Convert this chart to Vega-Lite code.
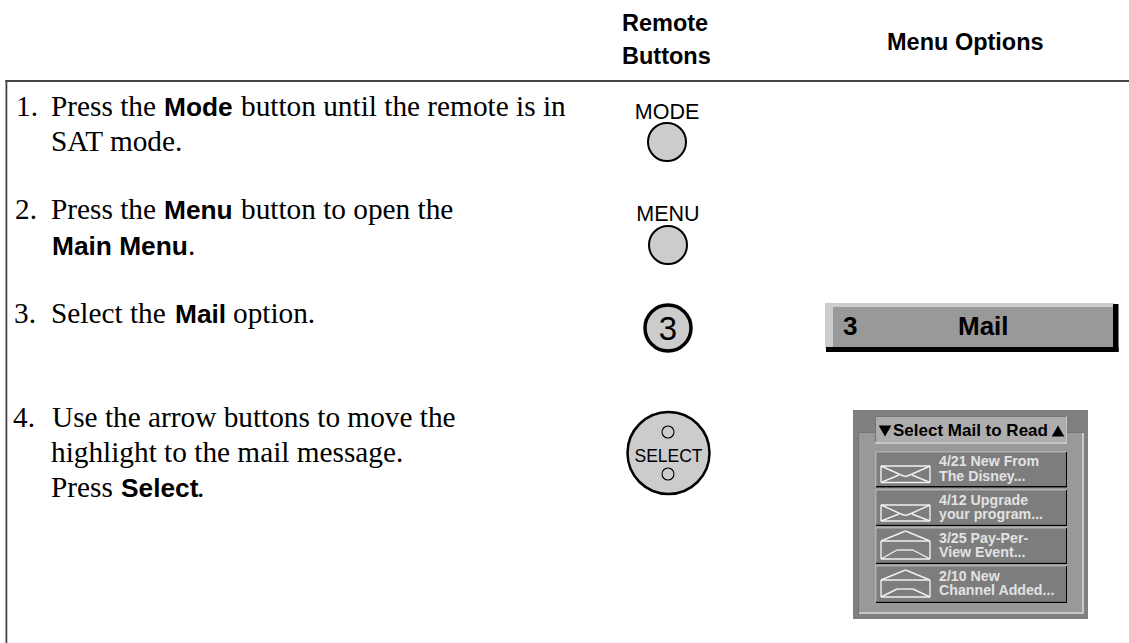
{
"$schema":"https://vega.github.io/schema/vega-lite/v6.json",
"width":1129,"height":643,
"autosize":{"type":"none"},
"padding":0,
"background":"#ffffff",
"view":{"stroke":null},
"datasets":{
"panels":[
{"x":5.5,"x2":1129,"y":80,"y2":82,"part":"rule"},
{"x":5.5,"x2":7.3,"y":80,"y2":643,"part":"rule"},
{"x":825,"x2":1114,"y":303,"y2":348,"part":"barlight"},
{"x":1113,"x2":1118.5,"y":304,"y2":352,"part":"black"},
{"x":826,"x2":1118.5,"y":347,"y2":352,"part":"black"},
{"x":833,"x2":1113,"y":307,"y2":347,"part":"bar"},
{"x":853,"x2":1088,"y":410,"y2":619,"part":"panelouter"},
{"x":858,"x2":1084,"y":432,"y2":614,"part":"edge"},
{"x":859,"x2":1084,"y":433,"y2":614,"part":"panelrim"},
{"x":859,"x2":1082,"y":433,"y2":612,"part":"bar"},
{"x":875,"x2":1067,"y":416,"y2":444,"part":"titlerim"},
{"x":875,"x2":1066,"y":416,"y2":442,"part":"edge"},
{"x":876,"x2":1066,"y":417,"y2":442,"part":"titlefill"},
{"x":875,"x2":1067,"y":451,"y2":487.5,"part":"rowrim"},
{"x":876,"x2":1067,"y":486,"y2":487.5,"part":"black"},
{"x":876.5,"x2":1066,"y":452.5,"y2":486,"part":"row"},
{"x":1066,"x2":1067,"y":452,"y2":487,"part":"black"},
{"x":875,"x2":1067,"y":489,"y2":526,"part":"rowrim"},
{"x":876,"x2":1067,"y":524.5,"y2":526,"part":"black"},
{"x":876.5,"x2":1066,"y":490.5,"y2":524.5,"part":"row"},
{"x":1066,"x2":1067,"y":490,"y2":525,"part":"black"},
{"x":875,"x2":1067,"y":527,"y2":564,"part":"rowrim"},
{"x":876,"x2":1067,"y":562.5,"y2":564,"part":"black"},
{"x":876.5,"x2":1066,"y":528.5,"y2":562.5,"part":"row"},
{"x":1066,"x2":1067,"y":528,"y2":563,"part":"black"},
{"x":875,"x2":1067,"y":565,"y2":603,"part":"rowrim"},
{"x":876,"x2":1067,"y":601.5,"y2":603,"part":"black"},
{"x":876.5,"x2":1066,"y":566.5,"y2":601.5,"part":"row"},
{"x":1066,"x2":1067,"y":566,"y2":602,"part":"black"}
],
"envelopes":[
{"x":881,"y":466,"x2":930,"y2":466},{"x":881,"y":482.5,"x2":930,"y2":482.5},{"x":881,"y":466,"x2":881,"y2":482.5},{"x":930,"y":466,"x2":930,"y2":482.5},
{"x":881,"y":466,"x2":901,"y2":475},{"x":930,"y":466,"x2":910,"y2":475},{"x":901,"y":475,"x2":905.5,"y2":476.5},{"x":905.5,"y":476.5,"x2":910,"y2":475},{"x":881,"y":482.5,"x2":899,"y2":475},{"x":930,"y":482.5,"x2":912,"y2":475},
{"x":881,"y":505,"x2":930,"y2":505},{"x":881,"y":521,"x2":930,"y2":521},{"x":881,"y":505,"x2":881,"y2":521},{"x":930,"y":505,"x2":930,"y2":521},
{"x":881,"y":505,"x2":901,"y2":514},{"x":930,"y":505,"x2":910,"y2":514},{"x":901,"y":514,"x2":905.5,"y2":515.5},{"x":905.5,"y":515.5,"x2":910,"y2":514},{"x":881,"y":521,"x2":899,"y2":514},{"x":930,"y":521,"x2":912,"y2":514},
{"x":881,"y":541,"x2":905.5,"y2":531},{"x":905.5,"y":531,"x2":930,"y2":541},{"x":881,"y":541,"x2":930,"y2":541},{"x":881,"y":541,"x2":881,"y2":559},{"x":930,"y":541,"x2":930,"y2":559},{"x":881,"y":559,"x2":930,"y2":559},{"x":881,"y":559,"x2":897,"y2":550},{"x":897,"y":550,"x2":913,"y2":550},{"x":913,"y":550,"x2":930,"y2":559},
{"x":881,"y":580,"x2":905.5,"y2":570},{"x":905.5,"y":570,"x2":930,"y2":580},{"x":881,"y":580,"x2":930,"y2":580},{"x":881,"y":580,"x2":881,"y2":597},{"x":930,"y":580,"x2":930,"y2":597},{"x":881,"y":597,"x2":930,"y2":597},{"x":881,"y":597,"x2":897,"y2":589},{"x":897,"y":589,"x2":913,"y2":589},{"x":913,"y":589,"x2":930,"y2":597}
],
"arrows":[
{"x":885,"y":431,"dir":"triangle-down"},
{"x":1058,"y":431,"dir":"triangle-up"}
],
"serif":[
{"x":16,"y":116,"t":"1."},
{"x":51,"y":116,"t":"Press the"},
{"x":241,"y":116,"t":"button until the remote is in"},
{"x":51,"y":151,"t":"SAT mode."},
{"x":15,"y":219,"t":"2."},
{"x":51,"y":219,"t":"Press the"},
{"x":241,"y":219,"t":"button to open the"},
{"x":188,"y":255,"t":"."},
{"x":14,"y":323,"t":"3."},
{"x":51,"y":323,"t":"Select the"},
{"x":233,"y":323,"t":"option."},
{"x":13,"y":427,"t":"4."},
{"x":52,"y":427,"t":"Use the arrow buttons to move the"},
{"x":51,"y":462,"t":"highlight to the mail message."},
{"x":51,"y":497,"t":"Press"},
{"x":197,"y":497,"t":"."}
],
"bold":[
{"x":164,"y":116,"t":"Mode"},
{"x":164,"y":219,"t":"Menu"},
{"x":52,"y":255,"t":"Main Menu"},
{"x":175,"y":323,"t":"Mail"},
{"x":121,"y":497,"t":"Select"}
],
"heads":[
{"x":622,"y":31,"t":"Remote"},
{"x":622,"y":64,"t":"Buttons"},
{"x":887,"y":50,"t":"Menu Options"}
],
"panel":[
{"x":939,"y":466,"t":"4/21 New From"},{"x":939,"y":481,"t":"The Disney..."},
{"x":939,"y":505,"t":"4/12 Upgrade"},{"x":939,"y":519,"t":"your program..."},
{"x":939,"y":543,"t":"3/25 Pay-Per-"},{"x":939,"y":557,"t":"View Event..."},
{"x":939,"y":581,"t":"2/10 New"},{"x":939,"y":595,"t":"Channel Added..."}
]
},
"encoding":{
"x":{"field":"x","type":"quantitative","scale":{"domain":[0,1129],"nice":false,"zero":false},"axis":null},
"y":{"field":"y","type":"quantitative","scale":{"domain":[643,0],"nice":false,"zero":false},"axis":null}
},
"layer":[
{"data":{"name":"panels"},"mark":{"type":"rect"},
 "encoding":{"x2":{"field":"x2"},"y2":{"field":"y2"},
 "color":{"field":"part","type":"nominal","legend":null,"scale":{
 "domain":["rule","barlight","black","bar","panelouter","panelrim","titlerim","titlefill","rowrim","row","edge"],
 "range":["#444444","#cccccc","#000000","#999999","#808080","#c8c8c8","#c4c4c4","#adadad","#b0b0b0","#7d7d7d","#747474"]}}}},
{"data":{"name":"envelopes"},"mark":{"type":"rule","color":"#f0f0f0","strokeWidth":1.4},
 "encoding":{"x2":{"field":"x2"},"y2":{"field":"y2"}}},
{"data":{"values":[{"x":667,"y":142},{"x":668,"y":245}]},
 "mark":{"type":"point","shape":"circle","filled":false,"fill":"#cccccc","fillOpacity":1,"stroke":"#000000","strokeWidth":2,"opacity":1,"size":1444},"encoding":{}},
{"data":{"values":[{"x":668.5,"y":453}]},
 "mark":{"type":"point","shape":"circle","filled":false,"fill":"#cccccc","fillOpacity":1,"stroke":"#000000","strokeWidth":2.5,"opacity":1,"size":6724},"encoding":{}},
{"data":{"values":[{"x":668,"y":328}]},
 "mark":{"type":"point","shape":"circle","filled":false,"fill":"#cccccc","fillOpacity":1,"stroke":"#000000","strokeWidth":3.5,"size":2116,"opacity":1},"encoding":{}},
{"data":{"values":[{"x":668,"y":432},{"x":668,"y":474}]},
 "mark":{"type":"point","shape":"circle","filled":false,"stroke":"#000000","strokeWidth":1.1,"size":144,"opacity":1},"encoding":{}},
{"data":{"name":"arrows"},"mark":{"type":"point","filled":true,"color":"#000000","size":160,"opacity":1},
 "encoding":{"shape":{"field":"dir","type":"nominal","legend":null,"scale":{"domain":["triangle-down","triangle-up"],"range":["triangle-down","triangle-up"]}}}},
{"data":{"name":"serif"},"mark":{"type":"text","align":"left","baseline":"alphabetic","font":"Liberation Serif","fontSize":29.3,"color":"#000000"},
 "encoding":{"text":{"field":"t"}}},
{"data":{"name":"bold"},"mark":{"type":"text","align":"left","baseline":"alphabetic","font":"Liberation Sans","fontWeight":"bold","fontSize":26.3,"color":"#000000"},
 "encoding":{"text":{"field":"t"}}},
{"data":{"name":"heads"},"mark":{"type":"text","align":"left","baseline":"alphabetic","font":"Liberation Sans","fontWeight":"bold","fontSize":23.5,"color":"#000000"},
 "encoding":{"text":{"field":"t"}}},
{"data":{"values":[{"x":667,"y":119,"t":"MODE"},{"x":668,"y":221,"t":"MENU"}]},"mark":{"type":"text","align":"center","baseline":"alphabetic","font":"Liberation Sans","color":"#000000","fontSize":21.5},
 "encoding":{"text":{"field":"t"}}},
{"data":{"values":[{"x":668,"y":340,"t":"3"}]},"mark":{"type":"text","align":"center","baseline":"alphabetic","font":"Liberation Sans","color":"#000000","fontSize":33},
 "encoding":{"text":{"field":"t"}}},
{"data":{"values":[{"x":668.5,"y":462,"t":"SELECT"}]},"mark":{"type":"text","align":"center","baseline":"alphabetic","font":"Liberation Sans","color":"#000000","fontSize":17.5},
 "encoding":{"text":{"field":"t"}}},
{"data":{"values":[{"x":843,"y":335,"t":"3"},{"x":958,"y":335,"t":"Mail"}]},
 "mark":{"type":"text","align":"left","baseline":"alphabetic","font":"Liberation Sans","fontWeight":"bold","color":"#000000","fontSize":26},
 "encoding":{"text":{"field":"t"}}},
{"data":{"values":[{"x":893,"y":436,"t":"Select Mail to Read"}]},
 "mark":{"type":"text","align":"left","baseline":"alphabetic","font":"Liberation Sans","fontWeight":"bold","color":"#000000","fontSize":17},
 "encoding":{"text":{"field":"t"}}},
{"data":{"name":"panel"},"mark":{"type":"text","align":"left","baseline":"alphabetic","font":"Liberation Sans","fontWeight":"bold","fontSize":14.2,"color":"#e2e2e2"},
 "encoding":{"text":{"field":"t"}}}
]
}
